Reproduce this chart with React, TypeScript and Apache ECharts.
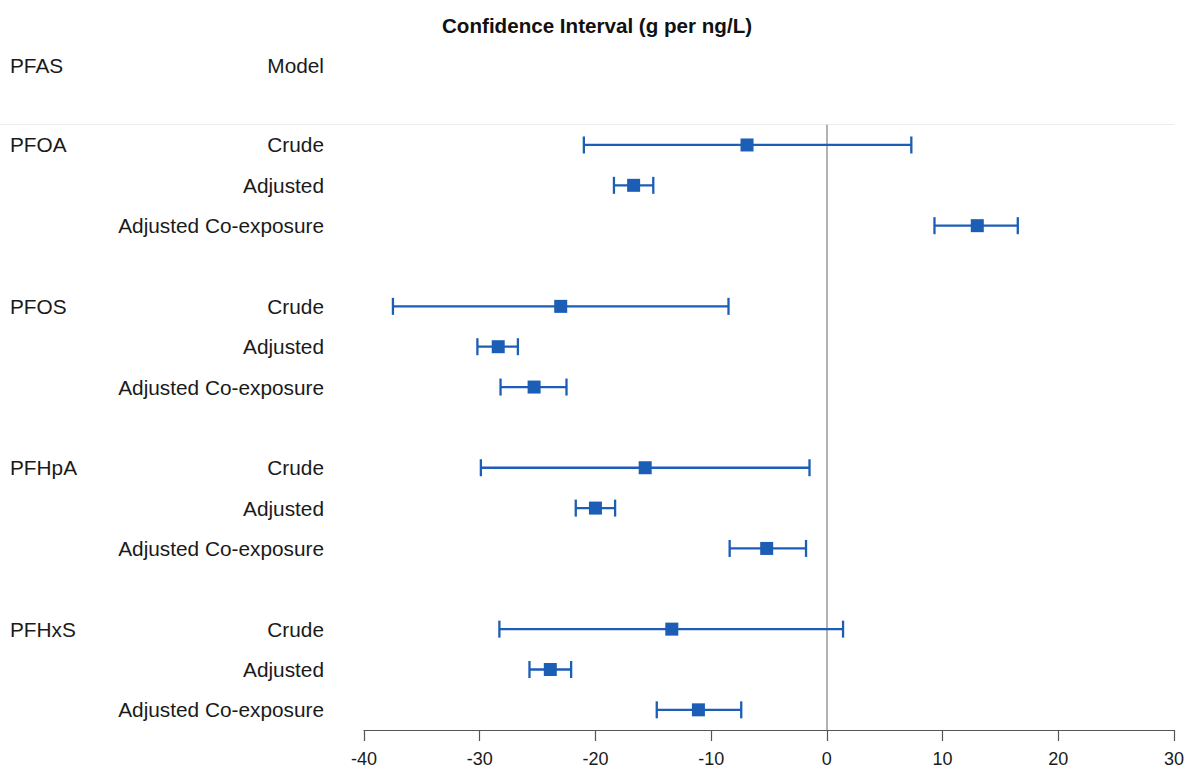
import React, { useEffect, useRef } from "react";
import * as echarts from "echarts";

const pfasNames = ["PFOA", "PFOS", "PFHpA", "PFHxS"];
const modelNames = ["Crude", "Adjusted", "Adjusted Co-exposure"];
const estimates = [
  [-6.9, -16.7, 13.0],
  [-23.0, -28.4, -25.3],
  [-15.7, -20.0, -5.2],
  [-13.4, -23.9, -11.1],
];
const lowerCI = [
  [-21.0, -18.4, 9.3],
  [-37.5, -30.2, -28.2],
  [-29.9, -21.7, -8.4],
  [-28.3, -25.7, -14.7],
];
const upperCI = [
  [7.3, -15.0, 16.5],
  [-8.5, -26.7, -22.5],
  [-1.5, -18.3, -1.8],
  [1.4, -22.1, -7.4],
];
const xTicks = { min: -40, max: 30, interval: 10 };
const titleText = "Confidence Interval (g per ng/L)";
const headerPfas = "PFAS";
const headerModel = "Model";

const FONT = "'Liberation Sans', Arial, Helvetica, sans-serif";
const BLUE = "#1c5db6";

export default function App() {
  const ref = useRef<HTMLDivElement>(null);

  useEffect(() => {
    document.body.style.margin = "0";
    if (!ref.current) return;
    const chart = echarts.init(ref.current, undefined, { renderer: "svg" });

    const rowModel: string[] = [];
    const rowPfas: string[] = [];
    const pointData: any[] = [];
    const barData: any[] = [];
    pfasNames.forEach((p, g) => {
      modelNames.forEach((m, k) => {
        const idx = rowModel.length;
        rowModel.push(m);
        rowPfas.push(k === 0 ? p : "");
        pointData.push([estimates[g][k], idx]);
        barData.push([lowerCI[g][k], upperCI[g][k], idx]);
      });
      if (g < pfasNames.length - 1) {
        rowModel.push("");
        rowPfas.push("");
      }
    });

    const labelStyle = { color: "#1a1a1a", fontSize: 20.8, fontFamily: FONT };

    chart.setOption({
      animation: false,
      backgroundColor: "#ffffff",
      title: {
        text: titleText,
        left: 437,
        top: 10,
        textStyle: { fontSize: 20.6, fontWeight: "bold", color: "#111", fontFamily: FONT },
      },
      grid: { left: 364, right: 14, top: 124.8, bottom: 43, containLabel: false },
      xAxis: {
        type: "value",
        min: xTicks.min,
        max: xTicks.max,
        interval: xTicks.interval,
        axisLine: { show: true, lineStyle: { color: "#555", width: 1.2 } },
        axisTick: { show: true, length: 11, lineStyle: { color: "#555", width: 1.2 } },
        axisLabel: { margin: 20, color: "#1a1a1a", fontSize: 18, fontFamily: FONT },
        splitLine: { show: false },
      },
      yAxis: [
        {
          type: "category",
          inverse: true,
          data: rowModel,
          axisLine: { show: false },
          axisTick: { show: false },
          axisLabel: { ...labelStyle, margin: 40, align: "right", interval: 0 },
        },
        {
          type: "category",
          position: "left",
          inverse: true,
          data: rowPfas,
          axisLine: { show: false },
          axisTick: { show: false },
          axisLabel: { ...labelStyle, margin: 354, align: "left", interval: 0 },
        },
      ],
      graphic: [
        {
          type: "line",
          shape: { x1: 0, y1: 124.5, x2: 1174, y2: 124.5 },
          style: { stroke: "#ececec", lineWidth: 1 },
          z: 0,
        },
        {
          type: "text",
          left: 10,
          top: 55,
          style: { text: headerPfas, fill: "#1a1a1a", fontSize: 20.8, fontFamily: FONT },
        },
        {
          type: "text",
          right: 1188 - 324,
          top: 55,
          style: { text: headerModel, fill: "#1a1a1a", fontSize: 20.8, fontFamily: FONT, textAlign: "right" },
        },
      ],
      series: [
        {
          type: "custom",
          yAxisIndex: 0,
          data: barData,
          encode: { x: [0, 1], y: 2 },
          renderItem: (params: any, api: any) => {
            const row = api.value(2);
            const a = api.coord([api.value(0), row]);
            const b = api.coord([api.value(1), row]);
            const h = 8.5;
            const style = { stroke: BLUE, lineWidth: 2.3 };
            return {
              type: "group",
              children: [
                { type: "line", shape: { x1: a[0], y1: a[1], x2: b[0], y2: b[1] }, style },
                { type: "line", shape: { x1: a[0], y1: a[1] - h, x2: a[0], y2: a[1] + h }, style },
                { type: "line", shape: { x1: b[0], y1: b[1] - h, x2: b[0], y2: b[1] + h }, style },
              ],
            };
          },
          z: 2,
        },
        {
          type: "scatter",
          yAxisIndex: 0,
          data: pointData,
          symbol: "rect",
          symbolSize: 13,
          itemStyle: { color: BLUE, opacity: 1 },
          z: 3,
          markLine: {
            silent: true,
            symbol: "none",
            label: { show: false },
            lineStyle: { color: "#999", width: 1.5, type: "solid" },
            data: [{ xAxis: 0 }],
            z: 1,
          },
        },
      ],
    });

    return () => chart.dispose();
  }, []);

  return <div ref={ref} style={{ width: 1188, height: 773 }} />;
}
